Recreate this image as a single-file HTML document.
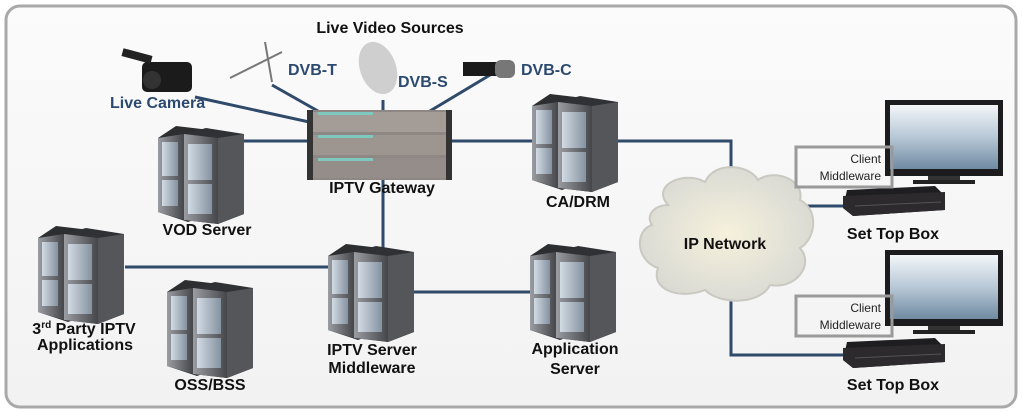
<!DOCTYPE html>
<html><head><meta charset="utf-8"><style>
body{margin:0;background:#fff}
svg{display:block}
text{font-family:"Liberation Sans",sans-serif;font-weight:bold}
</style></head><body>
<svg width="1022" height="413" viewBox="0 0 1022 413" xmlns="http://www.w3.org/2000/svg">
<defs>
<linearGradient id="bg" x1="0" y1="0" x2="0" y2="1"><stop offset="0" stop-color="#fbfbfb"/><stop offset="1" stop-color="#f2f2f2"/></linearGradient>
<linearGradient id="tw" x1="0" y1="0" x2="1" y2="0"><stop offset="0" stop-color="#9a9da2"/><stop offset="1" stop-color="#45464a"/></linearGradient>
<linearGradient id="pn" x1="0" y1="0" x2="1" y2="0"><stop offset="0" stop-color="#d2dbe4"/><stop offset="1" stop-color="#8592a0"/></linearGradient>
<radialGradient id="cl" cx="0.5" cy="0.5" r="0.6"><stop offset="0" stop-color="#f6f1dc"/><stop offset="1" stop-color="#d6d7d3"/></radialGradient>
<linearGradient id="sc" x1="0" y1="0" x2="0" y2="1"><stop offset="0" stop-color="#f2f6f9"/><stop offset="0.5" stop-color="#b8c8d6"/><stop offset="1" stop-color="#6f8aa2"/></linearGradient>
<g id="srv">
<polygon points="0,12 18,0 52,4 52,88 30,96 0,86" fill="#2d2e30"/>
<polygon points="0,12 26,8 26,94 0,86" fill="url(#tw)"/>
<rect x="4" y="16" width="16" height="34" fill="url(#pn)"/><rect x="4" y="54" width="16" height="26" fill="url(#pn)"/>
<polygon points="26,8 48,2 86,8 86,88 60,98 26,94" fill="#303134"/>
<polygon points="26,8 60,12 60,98 26,94" fill="url(#tw)"/>
<polygon points="60,12 86,8 86,88 60,98" fill="#55565a"/>
<rect x="30" y="18" width="24" height="36" fill="url(#pn)"/><rect x="30" y="58" width="24" height="30" fill="url(#pn)"/>
</g>
<g id="tv"><rect x="0" y="0" width="118" height="76" fill="#1c1c1e"/><rect x="5" y="5" width="108" height="64" fill="url(#sc)"/><rect x="43" y="76" width="32" height="5" fill="#333"/><rect x="28" y="80" width="62" height="4" fill="#222"/></g>
<g id="stb"><polygon points="4,4 92,0 102,10 102,24 10,30 0,22" fill="#1e1d1f"/><polygon points="0,10 102,6 102,24 10,30 0,22" fill="#2c2a2c"/><line x1="12" y1="20" x2="98" y2="16" stroke="#555" stroke-width="1"/></g>
</defs>
<rect x="0" y="0" width="1022" height="413" fill="#fff"/>
<rect x="6" y="6" width="1010" height="401" rx="14" fill="url(#bg)" stroke="#a9a9a9" stroke-width="3"/>
<g stroke="#2f4a6a" stroke-width="3" fill="none">
<line x1="195" y1="97" x2="355" y2="132"/>
<line x1="272" y1="85" x2="355" y2="132"/>
<line x1="383" y1="100" x2="383" y2="132"/>
<line x1="490" y1="75" x2="395" y2="132"/>
<line x1="240" y1="141" x2="310" y2="141"/>
<line x1="450" y1="141" x2="535" y2="141"/>
<line x1="383" y1="178" x2="383" y2="250"/>
<line x1="125" y1="267" x2="332" y2="267"/>
<line x1="410" y1="292" x2="532" y2="292"/>
<polyline points="615,141 731,141 731,195"/>
<line x1="800" y1="206" x2="845" y2="206"/>
<polyline points="731,295 731,355 845,355"/>
</g>
<rect x="307" y="110" width="145" height="70" fill="#8e8783"/>
<rect x="307" y="110" width="6" height="70" fill="#333"/><rect x="446" y="110" width="6" height="70" fill="#333"/>
<rect x="313" y="112" width="133" height="20" fill="#a49c97"/><rect x="313" y="135" width="133" height="20" fill="#9d9590"/><rect x="313" y="158" width="133" height="20" fill="#958d89"/>
<rect x="318" y="112" width="55" height="3" fill="#7fc8c0"/><rect x="318" y="135" width="55" height="3" fill="#7fc8c0"/><rect x="318" y="158" width="55" height="3" fill="#7fc8c0"/>
<rect x="142" y="62" width="50" height="30" rx="5" fill="#1b1b1b"/><rect x="122" y="52" width="30" height="8" fill="#222" transform="rotate(15 137 56)"/><circle cx="152" cy="80" r="9" fill="#333"/>
<line x1="230" y1="78" x2="282" y2="52" stroke="#777" stroke-width="2"/><line x1="265" y1="42" x2="272" y2="82" stroke="#777" stroke-width="2"/>
<ellipse cx="378" cy="68" rx="18" ry="27" fill="#cfcfcf" transform="rotate(-20 378 68)"/>
<rect x="463" y="62" width="42" height="14" fill="#1a1a1a"/><rect x="495" y="60" width="20" height="18" rx="6" fill="#777"/>
<use href="#srv" x="158" y="126"/>
<use href="#srv" x="532" y="94"/>
<use href="#srv" x="38" y="226"/>
<use href="#srv" x="167" y="280"/>
<use href="#srv" x="328" y="244"/>
<use href="#srv" x="530" y="244"/>
<path d="M668,205 C650,185 685,170 705,182 C715,160 750,165 758,180 C775,168 805,180 800,200 C820,210 815,240 800,248 C815,265 795,290 770,285 C760,305 720,305 705,290 C680,300 650,290 658,268 C635,260 635,230 652,225 C645,215 655,205 668,205 Z" fill="url(#cl)" stroke="#c9c9c2" stroke-width="2"/>
<use href="#tv" x="885" y="100"/>
<use href="#tv" x="885" y="250"/>
<use href="#stb" x="843" y="186"/>
<use href="#stb" x="843" y="338"/>
<rect x="796" y="147" width="96" height="40" fill="none" stroke="#9a9a9a" stroke-width="3"/>
<rect x="796" y="296" width="96" height="40" fill="none" stroke="#9a9a9a" stroke-width="3"/>
<g fill="#111" font-size="16" text-anchor="middle">
<text x="390" y="33">Live Video Sources</text>
<text x="382" y="193">IPTV Gateway</text>
<text x="207" y="235">VOD Server</text>
<text x="578" y="207">CA/DRM</text>
<text x="725" y="249">IP Network</text>
<text x="893" y="239">Set Top Box</text>
<text x="893" y="390">Set Top Box</text>
<text x="84" y="334">3<tspan font-size="10" dy="-6">rd</tspan><tspan dy="6"> Party IPTV</tspan></text>
<text x="85" y="350">Applications</text>
<text x="210" y="390">OSS/BSS</text>
<text x="372" y="355">IPTV Server</text>
<text x="372" y="373">Middleware</text>
<text x="575" y="354">Application</text>
<text x="575" y="374">Server</text>
</g>
<g fill="#2c4a70" font-size="16">
<text x="110" y="108">Live Camera</text>
<text x="288" y="75">DVB-T</text>
<text x="398" y="87">DVB-S</text>
<text x="521" y="75">DVB-C</text>
</g>
<g fill="#222" font-size="12" text-anchor="end">
<text x="881" y="163" style="font-weight:normal">Client</text>
<text x="881" y="180" style="font-weight:normal">Middleware</text>
<text x="881" y="312" style="font-weight:normal">Client</text>
<text x="881" y="329" style="font-weight:normal">Middleware</text>
</g>
</svg>
</body></html>
